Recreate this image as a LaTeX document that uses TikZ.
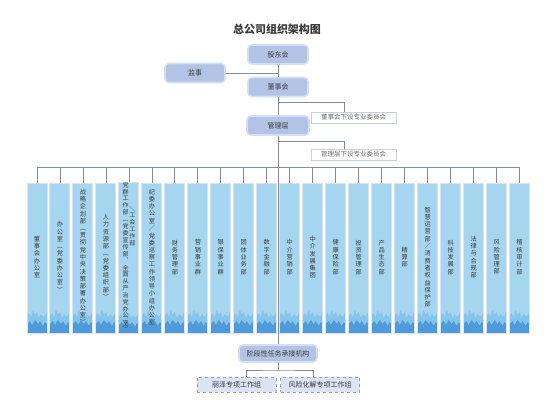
\documentclass[tikz,border=0pt]{standalone}
\usepackage{fontspec}
\setmainfont{Noto Sans CJK SC}
\usetikzlibrary{positioning,calc}
\definecolor{linegray}{HTML}{7F8CA8}
\definecolor{mainfill}{HTML}{B3C3E6}
\definecolor{mainedge}{HTML}{D3E0F4}
\definecolor{colfill}{HTML}{A5D5EF}
\definecolor{coledge}{HTML}{DCE3EC}
\definecolor{mtnlight}{HTML}{86C4EC}
\definecolor{mtndark}{HTML}{4E9ADB}
\definecolor{grpfill}{HTML}{DDE3F4}
\definecolor{grpedge}{HTML}{8DA2D8}
\definecolor{cmtedge}{HTML}{C8D0E0}
\definecolor{txtdark}{HTML}{3A3A3A}
\ExplSyntaxOn
\tl_new:N \l_vt_tl
\tl_new:N \l_vt_src_tl
\NewDocumentCommand \vtxt { O{c} m }
  {
    \tl_set:Nx \l_vt_src_tl {#2}
    \tl_clear:N \l_vt_tl
    \tl_map_inline:Nn \l_vt_src_tl
      {
        \tl_if_empty:NF \l_vt_tl { \tl_put_right:Nn \l_vt_tl { \\ } }
        \tl_put_right:Nn \l_vt_tl {##1}
      }
    \begin{tabular}[#1]{@{}c@{}} \tl_use:N \l_vt_tl \end{tabular}
  }
\ExplSyntaxOff
\newcommand{\mountains}{%
  \fill[mtnlight] (path picture bounding box.south west) -- +(0,-17) -- +(2,-20) -- +(4,-16) -- +(6,-23)
    -- +(8,-18) -- +(10,-21) -- +(12,-15) -- +(14,-19) -- +(17,-16) -- +(20,-22) -- +(20,0) -- cycle;
  \fill[mtndark] (path picture bounding box.south west) -- +(0,-9) -- +(3,-12) -- +(5,-8) -- +(8,-13)
    -- +(11,-9) -- +(13,-12) -- +(16,-7) -- +(18,-11) -- +(20,-9) -- +(20,0) -- cycle;}
\tikzset{
  conn/.style={draw=linegray, line width=0.8pt},
  mainbox/.style={rounded corners=4pt, fill=mainfill, draw=mainedge, line width=1.6pt,
                  minimum width=60pt, minimum height=19pt, inner sep=0pt,
                  font=\fontsize{7}{8}\selectfont, text=txtdark},
  cmtbox/.style={draw=cmtedge, fill=white, line width=0.6pt, minimum width=85pt, minimum height=11pt,
                 inner sep=0pt, font=\fontsize{6.5}{7}\selectfont, text=gray!85!black},
  colbox/.style={fill=colfill, draw=coledge, line width=1pt, minimum width=20pt, minimum height=150pt,
                 inner sep=0pt, font=\fontsize{6.2}{7}\selectfont, text=txtdark, path picture={\mountains}},
  grpbox/.style={fill=grpfill, draw=grpedge, dashed, line width=0.8pt, minimum width=79pt,
                 minimum height=15pt, inner sep=0pt, font=\fontsize{7}{8}\selectfont, text=txtdark},
}
\begin{document}
\begin{tikzpicture}[x=1pt, y=-1pt]
  \useasboundingbox (0,0) rectangle (550,405);
  \fill[white] (0,0) rectangle (550,405);
  \node[font=\fontsize{11}{12}\selectfont\bfseries, text=txtdark] (title) at (277,29) {总公司组织架构图};
  \node[mainbox] (gdh) at (278,54.5) {股东会};
  \node[mainbox] (js) at (195,73) {监事};
  \node[mainbox] (dsh) at (278,87) {董事会};
  \node[cmtbox] (dcmt) at (353.5,117.5) {董事会下设专业委员会};
  \node[mainbox, minimum width=62pt] (glc) at (278,125.5) {管理层};
  \node[cmtbox] (gcmt) at (353.5,154.5) {管理层下设专业委员会};
  \foreach \i/\name in {1/董事会办公室, 2/办公室︵党委办公室︶, 3/战略企划部︵贯彻党中央决策部署办公室︶,
      4/人力资源部︵党委组织部︶, 6/纪委办公室／党委巡察工作领导小组办公室, 7/财务管理部, 8/营销事业群,
      9/银保事业群, 10/团体业务部, 11/数字金融部, 12/中介营销部, 13/中介发展集团, 14/健康保险部,
      15/投资管理部, 16/产品生态部, 17/精算部, 18/智慧运营部／消费者权益保护部, 19/科技发展部,
      20/法律与合规部, 21/风险管理部, 22/稽核审计部}
    \node[colbox] (c\i) at ({37+(\i-1)*22.98},258) {\vtxt{\name}};
  \node[colbox] (c5) at ({37+4*22.98},258) {\fontsize{6}{6.5}\selectfont
    \vtxt[t]{党群工作部︵党委宣传部︑全面从严治党办公室︶}\hspace{0.8pt}\raisebox{-24pt}{\vtxt[t]{＼工会工作部}}};
  \node[mainbox, minimum width=78pt, minimum height=17pt] (jdx) at (278,353.5) {阶段性任务承接机构};
  \node[grpbox] (lz) at (236.5,384.5) {丽泽专项工作组};
  \node[grpbox] (fx) at (320,384.5) {风险化解专项工作组};
  \coordinate (dbr) at (278,102);
  \coordinate (gbr) at (278,141);
  \coordinate (bus) at (0,167);
  \coordinate (fork) at (278,370);
  \draw[conn] (gdh) -- (dsh);
  \draw[conn] (js) -- (js -| gdh);
  \draw[conn] (dsh) -- (glc);
  \draw[conn] (dbr) -| ([xshift=-9pt]dcmt.north);
  \draw[conn] (gbr) -| ([xshift=-9pt]gcmt.north);
  \draw[conn] (glc) -- (jdx);
  \draw[conn] (c1.north |- bus) -- (c22.north |- bus);
  \foreach \i in {1,...,22}
    \draw[conn] (c\i) -- (c\i.north |- bus);
  \draw[conn] (jdx) -- (fork);
  \draw[conn] ([xshift=9.5pt]lz.north) |- (fork) -| ([xshift=-7pt]fx.north);
\end{tikzpicture}
\end{document}
